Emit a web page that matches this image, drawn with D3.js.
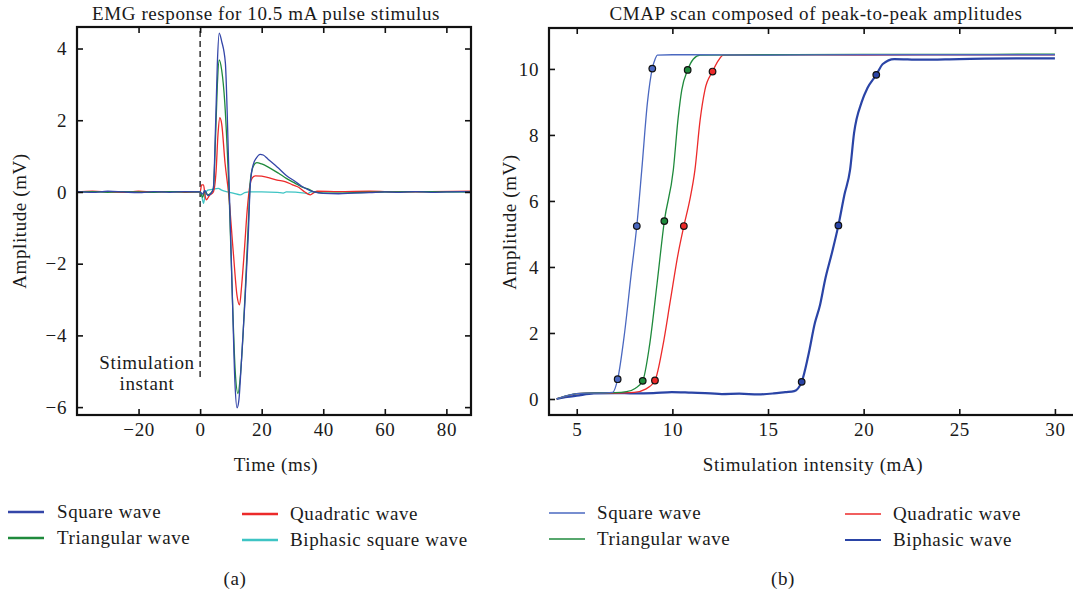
<!DOCTYPE html>
<html>
<head>
<meta charset="utf-8">
<script src="https://cdn.jsdelivr.net/npm/d3@7"></script>
<style>
  body { margin: 0; background: #fff; }
  svg text { font-family: "Liberation Serif", "Times New Roman", serif; fill: #1a1a1a; }
</style>
</head>
<body>
<div id="container-svg"></div>
<script>

// ******************************* DATA (a) *******************************
// EMG traces, [time ms, amplitude mV]
var emgSquare = [
  [-40, 0.01], [-35, -0.01], [-30, 0.02], [-25, 0], [-20, -0.02], [-15, 0.01], [-10, -0.01], [-5, 0.01], [0, 0],
  [0.8, -0.06], [1.5, 0.04], [2.5, -0.1], [3.5, -0.05], [4.3, 0.1], [5, 1.8], [5.6, 3.6], [6.2, 4.43], [7, 4.2],
  [8.2, 3.6], [8.8, 2.2], [9.5, 0], [10.5, -3], [11.3, -5.3], [12.0, -6.02], [12.6, -5.8], [13.5, -4.6],
  [14.6, -3.0], [15.6, -1.3], [16.3, 0.2], [17.2, 0.75], [18.3, 0.95], [19.5, 1.05], [20.5, 1.03], [22, 0.92],
  [25.5, 0.66], [28, 0.46], [30.9, 0.29], [33, 0.16], [35.2, 0.06], [37, 0], [40, -0.04], [45, -0.05],
  [50, -0.03], [55, -0.02], [60, 0], [65, -0.01], [70, 0.01], [75, -0.01], [80, 0], [85, 0.01], [88, 0]
];
var emgTriangular = [
  [-40, 0], [-35, 0.01], [-30, -0.01], [-25, 0.01], [-20, 0], [-15, -0.01], [-10, 0.01], [-5, 0], [0, 0],
  [0.8, -0.15], [1.5, 0.03], [2.5, -0.08], [3.5, -0.03], [4.3, 0.1], [5, 1.5], [5.6, 3.0], [6.2, 3.68], [7, 3.4],
  [8, 2.5], [8.8, 1.2], [9.4, 0], [10.5, -3], [11.4, -5.0], [12.3, -5.62], [13, -5.2], [14, -3.9],
  [14.8, -2.5], [15.8, -0.6], [16.3, 0.3], [17.2, 0.7], [18.4, 0.82], [20, 0.78], [22, 0.7], [25.5, 0.52],
  [28, 0.38], [30.9, 0.24], [33, 0.14], [35.2, 0.08], [37, 0], [40, -0.03], [45, -0.03], [50, -0.02],
  [60, 0], [70, 0.01], [80, 0], [88, 0.01]
];
var emgQuadratic = [
  [-40, 0], [-35, 0.02], [-30, 0], [-25, -0.01], [-20, 0.02], [-15, 0], [-10, 0.01], [-5, -0.01], [0, 0],
  [0.5, 0.2], [1.1, 0.2], [1.6, -0.1], [2, -0.22], [3, -0.1], [4.3, 0], [5.2, 0.6], [5.8, 1.6], [6.4, 2.07],
  [7, 1.9], [8.1, 0.8], [9.2, 0], [10.8, -1.71], [12, -2.9], [12.8, -3.15], [13.5, -2.6], [14.4, -1.6],
  [15.3, -0.5], [16.2, 0.2], [17, 0.4], [17.9, 0.45], [20, 0.44], [22.2, 0.4], [25, 0.33], [27.6, 0.29],
  [30, 0.2], [32, 0.13], [34, 0], [35.8, -0.08], [37, -0.02], [38, 0.02], [45, 0.01], [55, 0.02],
  [65, 0], [75, 0.01], [88, 0.02]
];
var emgBiphasic = [
  [-40, 0], [-30, 0.01], [-20, 0], [-10, 0.01], [0, 0], [0.5, -0.1], [1.1, -0.32], [1.6, -0.1],
  [2.5, 0.05], [4, 0.07], [5.9, 0.1], [7, 0.05], [9, 0], [11, -0.04], [13, -0.08], [14.5, -0.02],
  [16, 0], [20, 0], [25, -0.01], [27, -0.03], [28, 0], [34, -0.03], [35, -0.05], [36, 0],
  [45, 0.01], [60, 0], [75, 0.01], [88, 0]
];

var xTicksA = [-20, 0, 20, 40, 60, 80];
var yTicksA = [-6, -4, -2, 0, 2, 4];
var legendA = ["Square wave", "Triangular wave", "Quadratic wave", "Biphasic square wave"];

// ******************************* DATA (b) *******************************
// CMAP curves, [intensity mA, peak-to-peak mV]
var cmapSquare = [
  [3.95, 0], [4.5, 0.1], [5, 0.16], [5.5, 0.18], [6.2, 0.18], [6.88, 0.2], [7.14, 0.6], [7.5, 2.0],
  [7.85, 3.8], [8.14, 5.24], [8.4, 6.94], [8.7, 9.0], [8.95, 10.01], [9.1, 10.3], [9.21, 10.42],
  [10, 10.43], [15, 10.42], [20, 10.43], [25, 10.43], [30, 10.43]
];
var cmapTriangular = [
  [3.95, 0], [4.5, 0.1], [5, 0.16], [5.5, 0.18], [7, 0.19], [7.6, 0.22], [8.05, 0.32], [8.45, 0.55],
  [8.8, 1.6], [9.2, 3.5], [9.58, 5.39], [10.05, 6.94], [10.3, 8.5], [10.49, 9.36], [10.8, 9.97],
  [11.1, 10.3], [11.45, 10.42], [15, 10.43], [20, 10.44], [25, 10.44], [30, 10.45]
];
var cmapQuadratic = [
  [3.95, 0], [5, 0.16], [5.5, 0.18], [7, 0.18], [8, 0.2], [8.6, 0.3], [9.09, 0.56], [9.5, 1.6],
  [9.9, 3.0], [10.3, 4.4], [10.6, 5.24], [10.9, 6.0], [11.18, 6.94], [11.45, 8.45], [11.7, 9.36],
  [12.1, 9.92], [12.4, 10.25], [12.66, 10.42], [15, 10.43], [20, 10.42], [25, 10.43], [30, 10.43]
];
var cmapBiphasic = [
  [3.95, 0], [4.5, 0.06], [5, 0.1], [5.9, 0.17], [7, 0.18], [8, 0.17], [9, 0.18], [9.97, 0.21],
  [11, 0.19], [12, 0.17], [12.58, 0.15], [13.5, 0.16], [14.5, 0.14], [15.3, 0.17], [15.9, 0.21],
  [16.37, 0.24], [16.76, 0.52], [17.1, 1.3], [17.45, 2.3], [17.72, 2.85], [17.98, 3.6], [18.33, 4.4],
  [18.68, 5.26], [19.0, 6.2], [19.29, 6.94], [19.5, 8.06], [19.9, 9.0], [20.2, 9.42], [20.66, 9.82],
  [21.0, 10.15], [21.6, 10.3], [23, 10.28], [25, 10.3], [28, 10.32], [30, 10.32]
];
var markSquare = [[7.14, 0.6], [8.14, 5.24], [8.95, 10.01]];
var markTriangular = [[8.45, 0.55], [9.58, 5.39], [10.8, 9.97]];
var markQuadratic = [[9.09, 0.56], [10.6, 5.24], [12.1, 9.92]];
var markBiphasic = [[16.76, 0.52], [18.68, 5.26], [20.66, 9.82]];

var xTicksB = [5, 10, 15, 20, 25, 30];
var yTicksB = [0, 2, 4, 6, 8, 10];
var legendB = ["Square wave", "Triangular wave", "Quadratic wave", "Biphasic wave"];

// ***************************** DISPLAY VARS *****************************
var svg_width = 1073, svg_height = 596;
var FONT = 19, SPACING = "0.6px";

var colA = ["#3446a8", "#1f8a3c", "#ec2a2a", "#3ec4c4"];
var colB = ["#4a68c0", "#1f8a3c", "#ec2a2a", "#2a44a6"];

var body = d3.select("#container-svg");
var svg = body.append("svg")
  .attr("width", svg_width)
  .attr("height", svg_height);

// ******************************** SCALES ********************************
var xA = d3.scaleLinear().domain([-40, 88]).range([77, 471]);
var yA = d3.scaleLinear().domain([-6.22, 4.6]).range([415, 27]);
// right panel box runs off the page edge
var xB = d3.scaleLinear().domain([3.55, 31.05]).range([549, 1075]);
var yB = d3.scaleLinear().domain([-0.485, 11.24]).range([415, 28]);

function label(x, y, txt, anchor) {
  return svg.append("text")
    .attr("x", x).attr("y", y)
    .attr("text-anchor", anchor || "middle")
    .style("font-size", FONT + "px")
    .style("letter-spacing", SPACING)
    .text(txt);
}

// draws a boxed frame with inward ticks
function frame(sx, sy, xt, yt, rightTicks) {
  var x0 = sx.range()[0], x1 = sx.range()[1],
      y0 = sy.range()[1], y1 = sy.range()[0];
  var axes = [
    [d3.axisBottom(sx).tickValues(xt).tickPadding(8), "translate(0," + y1 + ")"],
    [d3.axisTop(sx).tickValues(xt).tickFormat(""), "translate(0," + y0 + ")"],
    [d3.axisLeft(sy).tickValues(yt).tickPadding(10), "translate(" + x0 + ",0)"]
  ];
  if (rightTicks) {
    axes.push([d3.axisRight(sy).tickValues(yt).tickFormat(""), "translate(" + x1 + ",0)"]);
  }
  axes.forEach(function(a) {
    var g = svg.append("g")
      .attr("transform", a[1])
      .call(a[0].tickSizeInner(-6).tickSizeOuter(0));
    g.select(".domain").remove();
    g.selectAll("line").attr("stroke", "#111").attr("stroke-width", 1.6);
    g.selectAll("text")
      .style("font-size", FONT + "px")
      .style("letter-spacing", SPACING)
      .style("font-family", '"Liberation Serif", serif')
      .attr("fill", "#1a1a1a");
  });
  svg.append("rect")
    .attr("x", x0).attr("y", y0)
    .attr("width", x1 - x0).attr("height", y1 - y0)
    .attr("fill", "none")
    .attr("stroke", "#111")
    .attr("stroke-width", 2.2);
}

// ******************************* PANEL (a) *******************************
var lineA = d3.line()
  .x(function(d) { return xA(d[0]); })
  .y(function(d) { return yA(d[1]); })
  .curve(d3.curveMonotoneX);

// stimulation instant marker
svg.append("line")
  .attr("x1", xA(0)).attr("x2", xA(0))
  .attr("y1", 31).attr("y2", 381)
  .attr("stroke", "#222")
  .attr("stroke-width", 1.4)
  .attr("stroke-dasharray", "6,4");

// draw order: cyan first, then red, green, blue on top
[emgBiphasic, emgQuadratic, emgTriangular, emgSquare].forEach(function(s, i) {
  svg.append("path")
    .attr("d", lineA(s))
    .attr("fill", "none")
    .attr("stroke", colA[3 - i])
    .attr("stroke-width", 1.3)
    .attr("stroke-linejoin", "round");
});

frame(xA, yA, xTicksA, yTicksA, true);

label(147, 369, "Stimulation");
label(147, 390, "instant");

label(266, 20, "EMG response for 10.5 mA pulse stimulus");
label(276, 471, "Time (ms)");
svg.append("text")
  .attr("transform", "translate(26,221) rotate(-90)")
  .attr("text-anchor", "middle")
  .style("font-size", FONT + "px")
  .style("letter-spacing", SPACING)
  .text("Amplitude (mV)");

// ******************************* PANEL (b) *******************************
var lineB = d3.line()
  .x(function(d) { return xB(d[0]); })
  .y(function(d) { return yB(d[1]); })
  .curve(d3.curveMonotoneX);

var seriesB = [cmapBiphasic, cmapQuadratic, cmapTriangular, cmapSquare];
var widthB = [2.2, 1.3, 1.3, 1.3];
seriesB.forEach(function(s, i) {
  svg.append("path")
    .attr("d", lineB(s))
    .attr("fill", "none")
    .attr("stroke", colB[3 - i])
    .attr("stroke-width", widthB[i])
    .attr("stroke-linejoin", "round");
});

[markSquare, markTriangular, markQuadratic, markBiphasic].forEach(function(m, i) {
  svg.selectAll(null)
    .data(m)
    .enter()
    .append("circle")
      .attr("cx", function(d) { return xB(d[0]); })
      .attr("cy", function(d) { return yB(d[1]); })
      .attr("r", 3.3)
      .attr("fill", colB[i])
      .attr("stroke", "#111")
      .attr("stroke-width", 1.2);
});

frame(xB, yB, xTicksB, yTicksB, false);

label(816, 20, "CMAP scan composed of peak-to-peak amplitudes");
label(813, 471, "Stimulation intensity (mA)");
svg.append("text")
  .attr("transform", "translate(516,222) rotate(-90)")
  .attr("text-anchor", "middle")
  .style("font-size", FONT + "px")
  .style("letter-spacing", SPACING)
  .text("Amplitude (mV)");

// ******************************** LEGENDS ********************************
function legend(names, cols, widths, cx, lx, ty) {
  names.forEach(function(n, i) {
    var c = Math.floor(i / 2), r = i % 2;
    var y = ty[c] + r * 26;
    svg.append("line")
      .attr("x1", cx[c]).attr("x2", cx[c] + 36)
      .attr("y1", y).attr("y2", y)
      .attr("stroke", cols[i])
      .attr("stroke-width", widths[i]);
    label(lx[c], y + 6, n, "start");
  });
}
legend(legendA, colA, [2.4, 2.4, 2.4, 2.4], [8, 242], [57, 290], [512, 514]);
legend(legendB, colB, [1.4, 1.4, 1.4, 2.2], [549, 845], [597, 893], [513, 514]);

label(235, 585, "(a)");
label(783, 585, "(b)");

</script>
</body>
</html>
